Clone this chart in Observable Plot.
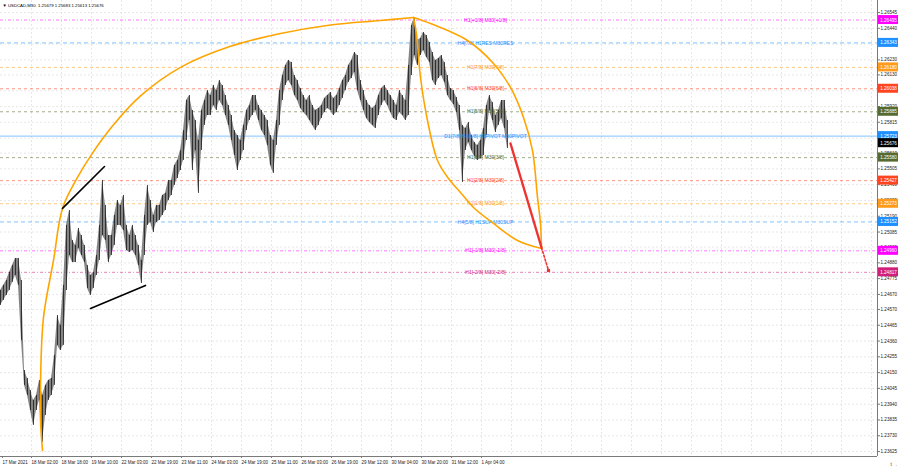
<!DOCTYPE html>
<html><head><meta charset="utf-8">
<script src="https://cdn.jsdelivr.net/npm/d3@7"></script>
<script src="https://cdn.jsdelivr.net/npm/@observablehq/plot@0.6"></script>
<style>body{margin:0;background:#fff}svg{display:block}</style>
</head><body><div id="chart"></div>
<script>
const chartTitle = "▼ USDCAD,M30  1.25679 1.25683 1.25613 1.25676";
const barStep = 3;
const highs = [1.24696,1.24730,1.24763,1.24816,1.24863,1.24909,1.24909,1.24763,1.24164,1.24111,1.24031,1.23965,1.23998,1.24098,1.23998,1.24065,1.24098,1.24111,1.24264,1.24530,1.24464,1.24730,1.25129,1.25228,1.25029,1.24996,1.25109,1.25062,1.24996,1.24863,1.24796,1.24816,1.24929,1.25129,1.25428,1.25262,1.25062,1.25062,1.25195,1.25295,1.25262,1.25328,1.25129,1.25062,1.25129,1.25062,1.24996,1.24896,1.25195,1.25395,1.25295,1.25195,1.25262,1.25262,1.25328,1.25342,1.25428,1.25428,1.25528,1.25561,1.25627,1.25760,1.25960,1.25993,1.25894,1.25827,1.25694,1.25894,1.25960,1.26026,1.25993,1.26060,1.26026,1.26093,1.26060,1.25993,1.25927,1.25860,1.25760,1.25727,1.25694,1.25794,1.25894,1.25927,1.25993,1.25993,1.25927,1.25894,1.25860,1.25827,1.25727,1.25694,1.25827,1.26026,1.26126,1.26193,1.26226,1.26213,1.26126,1.26093,1.26040,1.25993,1.25960,1.25993,1.25927,1.25894,1.25907,1.25927,1.25973,1.25993,1.26013,1.25973,1.25993,1.26040,1.26093,1.26126,1.26193,1.26226,1.26279,1.26259,1.26093,1.26026,1.25960,1.25927,1.25907,1.25927,1.25993,1.26040,1.26060,1.26026,1.25993,1.25960,1.25927,1.26026,1.25993,1.25960,1.26193,1.26459,1.26512,1.26359,1.26372,1.26412,1.26392,1.26346,1.26279,1.26226,1.26239,1.26259,1.26213,1.26126,1.26040,1.26026,1.25980,1.25927,1.25794,1.25774,1.25814,1.25727,1.25681,1.25661,1.25694,1.25774,1.25927,1.25993,1.25947,1.25860,1.25894,1.25960,1.25960,1.25827];
const lows = [1.24597,1.24630,1.24663,1.24696,1.24750,1.24796,1.24730,1.24364,1.24065,1.23998,1.23898,1.23799,1.23898,1.23965,1.23686,1.23865,1.23965,1.23998,1.24065,1.24331,1.24297,1.24331,1.24696,1.24929,1.24882,1.24882,1.24976,1.24929,1.24882,1.24710,1.24663,1.24710,1.24796,1.24896,1.25062,1.25029,1.24882,1.24929,1.24996,1.25129,1.25129,1.25095,1.24962,1.24949,1.24962,1.24929,1.24863,1.24743,1.24929,1.25129,1.25149,1.25082,1.25149,1.25162,1.25195,1.25228,1.25295,1.25328,1.25395,1.25441,1.25494,1.25561,1.25694,1.25827,1.25494,1.25627,1.25342,1.25627,1.25794,1.25860,1.25860,1.25927,1.25894,1.25960,1.25927,1.25860,1.25794,1.25694,1.25594,1.25494,1.25561,1.25627,1.25760,1.25827,1.25860,1.25894,1.25827,1.25760,1.25727,1.25661,1.25528,1.25475,1.25661,1.25794,1.25960,1.26060,1.26093,1.26060,1.25993,1.25960,1.25907,1.25880,1.25860,1.25827,1.25794,1.25760,1.25794,1.25840,1.25880,1.25907,1.25894,1.25860,1.25880,1.25927,1.25973,1.26026,1.26080,1.26106,1.26146,1.26026,1.25960,1.25894,1.25840,1.25814,1.25794,1.25774,1.25860,1.25927,1.25960,1.25927,1.25880,1.25840,1.25827,1.25880,1.25860,1.25827,1.25860,1.26126,1.26259,1.26193,1.26259,1.26292,1.26246,1.26213,1.26093,1.26060,1.26106,1.26126,1.26080,1.25993,1.25960,1.25933,1.25880,1.25760,1.25415,1.25627,1.25681,1.25627,1.25588,1.25561,1.25574,1.25594,1.25727,1.25894,1.25827,1.25747,1.25794,1.25840,1.25774,1.25641];

const timeTicks = [2,31,61,91,121,151,181,211,241,271,301,331,361,391,421,451,481];
const timeLabels = ["17 Mar 2021","18 Mar 02:00","18 Mar 18:00","19 Mar 10:00","22 Mar 03:00","22 Mar 19:00","23 Mar 11:00","24 Mar 03:00","24 Mar 19:00","25 Mar 11:00","26 Mar 03:00","26 Mar 19:00","29 Mar 12:00","30 Mar 04:00","30 Mar 20:00","31 Mar 12:00","1 Apr 04:00"];
const gridBars = [31,61,91,121,151,181,211,241,271,301,331,361,391,421,451,481,511,541,571,601,631,661,691,721,751,781,811,841,871];
const gridPrices = [1.26545,1.26440,1.26335,1.26230,1.26130,1.26025,1.25920,1.25815,1.25710,1.25610,1.25505,1.25400,1.25295,1.25190,1.25085,1.24985,1.24880,1.24775,1.24670,1.24570,1.24465,1.24360,1.24255,1.24150,1.24045,1.23940,1.23835,1.23730,1.23625];
const priceTickLabels = [1.26545,1.26440,1.26230,1.26130,1.25920,1.25815,1.25610,1.25505,1.25400,1.25295,1.25190,1.25085,1.24985,1.24880,1.24775,1.24670,1.24570,1.24465,1.24360,1.24255,1.24150,1.24045,1.23940,1.23835,1.23730,1.23625];

const levelPrices = [1.26495,1.26343,1.26180,1.26038,1.25885,1.25723,1.25580,1.25427,1.25273,1.25152,1.24960,1.24817];
const levelNames = ["H1[+1/8] M30[+1/8]","H4[7/8] H1RES M30RES","H1[7/8] M30[7/8]","H1[6/8] M30[6/8]","H1[5/8] M30[5/8]","D1[7/8] H4[6/8] H1PIVOT M30PIVOT","H1[3/8] M30[3/8]","H1[2/8] M30[2/8]","H1[1/8] M30[1/8]","H4[5/8] H1SUP M30SUP","H1[-1/8] M30[-1/8]","H1[-2/8] M30[-2/8]"];
const levelColors = ["#ff00ff","#1e90ff","#ff9a1a","#ff4520","#556b2f","#1e90ff","#556b2f","#ff4520","#ff9a1a","#1e90ff","#ff00ff","#d0207a"];
const levelDash = ["3,2,1,2","4,3","3,3","3,3","3,3","none","3,3","3,3","3,3","4,3","3,2,1,2","3,2,1,2"];
const levelLabelBar = 485;
const lastPrice = 1.25676;

const bigArcBar = [42,40,40,43,53,62,77,92,112,140,180,230,280,330,380,413];
const bigArcPrice = [1.23633,1.23832,1.24078,1.24517,1.24896,1.25242,1.25448,1.25610,1.25790,1.25990,1.26180,1.26320,1.26405,1.26462,1.26492,1.26512];
const lensLeftBar = [413,416,420,427,437,448,460,473,493,517,541];
const lensLeftPrice = [1.26512,1.26400,1.26113,1.25827,1.25561,1.25441,1.25348,1.25248,1.25142,1.25029,1.24976];
const lensRightBar = [413,430,467,493,510,523,532,537,540,541];
const lensRightPrice = [1.26512,1.26472,1.26359,1.26206,1.26047,1.25847,1.25627,1.25315,1.25142,1.24976];
const trendUpperBar = [62,104], trendUpperPrice = [1.25242,1.25521];
const trendLowerBar = [90,145], trendLowerPrice = [1.24577,1.24730];
const forecastBar = [510,541], forecastPrice = [1.25674,1.24982];
const forecastTailBar = [541,548], forecastTailPrice = [1.24982,1.24829];

const xMax = 877;
const yMin = 1.23592, yMax = 1.26625;
const bars = highs.map((h,i)=>({t:i*barStep, hi:h, lo:lows[i]}));
const levels = levelPrices.map((p,i)=>({p, name:levelNames[i], color:levelColors[i], dash:levelDash[i]}));
const pts = (b,p)=>b.map((t,i)=>({t, p:p[i]}));
const labelFor = new Map(timeTicks.map((t,i)=>[t,timeLabels[i]]));
const font = "Liberation Sans, Arial, sans-serif";

const boxes = [...levels.map(l=>({p:l.p, color:l.color})), {p:lastPrice, color:"#000"}];

const chart = Plot.plot({
  width: 900, height: 468,
  marginLeft: 0, marginRight: 900 - xMax, marginTop: 0, marginBottom: 12,
  style: {fontFamily: font, background: "#fff"},
  x: {type: "linear", domain: [0, xMax], axis: null},
  y: {type: "linear", domain: [yMin, yMax], axis: null},
  marks: [
    Plot.ruleY(gridPrices, {stroke: "#dcdcdc", strokeDasharray: "2,2", strokeWidth: 0.7}),
    Plot.ruleX(gridBars, {stroke: "#dcdcdc", strokeDasharray: "2,2", strokeWidth: 0.7}),
    ...levels.map(l => Plot.ruleY([l.p], {stroke: l.color, strokeDasharray: l.dash, strokeWidth: 1, strokeOpacity: 0.55})),
    Plot.areaY(bars, {x: "t", y1: "lo", y2: "hi", fill: "#707070", fillOpacity: 0.85}),
    Plot.ruleX(bars, {x: "t", y1: "lo", y2: "hi", stroke: "#1a1a1a", strokeWidth: 0.8}),
    Plot.text(levels, {x: () => levelLabelBar, y: "p", text: "name", fill: "color", fontSize: 5, textAnchor: "middle"}),
    Plot.line(pts(bigArcBar, bigArcPrice), {x: "t", y: "p", stroke: "#ffa500", strokeWidth: 1.6, curve: "catmull-rom"}),
    Plot.line(pts(lensLeftBar, lensLeftPrice), {x: "t", y: "p", stroke: "#ffa500", strokeWidth: 1.6, curve: "catmull-rom"}),
    Plot.line(pts(lensRightBar, lensRightPrice), {x: "t", y: "p", stroke: "#ffa500", strokeWidth: 1.6, curve: "catmull-rom"}),
    Plot.line(pts(trendUpperBar, trendUpperPrice), {x: "t", y: "p", stroke: "#000", strokeWidth: 1.6}),
    Plot.line(pts(trendLowerBar, trendLowerPrice), {x: "t", y: "p", stroke: "#000", strokeWidth: 1.6}),
    Plot.line(pts(forecastBar, forecastPrice), {x: "t", y: "p", stroke: "#ee3333", strokeWidth: 2.4}),
    Plot.line(pts(forecastTailBar, forecastTailPrice), {x: "t", y: "p", stroke: "#ee3333", strokeWidth: 1.6, strokeDasharray: "2,2"}),
    Plot.dot(pts([forecastTailBar[1]], [forecastTailPrice[1]]), {x: "t", y: "p", symbol: "square", r: 1.8, fill: "#ee3333"}),
    Plot.ruleX([xMax], {stroke: "#7a7a7a", strokeWidth: 1}),
    Plot.ruleY([yMin], {stroke: "#7a7a7a", strokeWidth: 1}),
    Plot.axisY(priceTickLabels, {anchor: "right", tickSize: 2, tickPadding: 1, fontSize: 4.6, textAnchor: "start", tickFormat: d => d.toFixed(5), stroke: "#7a7a7a", fill: "#222"}),
    Plot.axisX(timeTicks, {anchor: "bottom", tickSize: 2, tickPadding: 2, fontSize: 4.5, textAnchor: "start", tickFormat: d => labelFor.get(d), fill: "#222", stroke: "#7a7a7a"}),
    Plot.rect(boxes, {x1: () => xMax + 1, x2: () => xMax + 21, y1: "p", y2: "p", insetTop: -4.5, insetBottom: -4.5, fill: "color"}),
    Plot.text(boxes, {x: () => xMax + 11, y: "p", text: d => d.p.toFixed(5), fill: "#fff", fontSize: 4.6, textAnchor: "middle"}),
    Plot.text([chartTitle], {frameAnchor: "top-left", dx: 2, dy: 3, fontSize: 4.3, fill: "#000", textAnchor: "start"})
  ]
});
document.getElementById("chart").appendChild(chart);
</script>
</body></html>
